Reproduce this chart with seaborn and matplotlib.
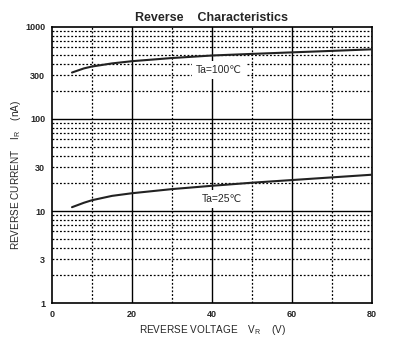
import numpy as np
import pandas as pd
import matplotlib.pyplot as plt
import seaborn as sns
from matplotlib.ticker import FixedLocator, NullFormatter

# Dados (tensão reversa em V, corrente reversa em nA)
vr = [5, 8, 10, 15, 20, 30, 40, 50, 60, 70, 80]
ir_100 = [320, 355, 372, 402, 425, 460, 490, 510, 530, 550, 572]
ir_25 = [11.0, 12.3, 13.1, 14.6, 15.6, 17.3, 18.8, 20.3, 21.7, 23.2, 24.8]

df = pd.DataFrame({
    'vr': vr * 2,
    'ir': ir_100 + ir_25,
    'ta': ['100'] * len(vr) + ['25'] * len(vr),
})

sns.set_style('white')
plt.rcParams['font.family'] = ['Liberation Sans', 'DejaVu Sans']

fig = plt.figure(figsize=(3.96, 3.52), dpi=100)
ax = fig.add_axes([0.1313, 0.1392, 0.8081, 0.7841])

sns.lineplot(data=df, x='vr', y='ir', units='ta', estimator=None,
             color='#222222', linewidth=1.5, ax=ax, zorder=5)

ax.set_yscale('log')
ax.set_xlim(0, 80)
ax.set_ylim(1, 1000)

# Grade: linhas cheias nas décadas e a cada 20 V, pontilhadas no resto
ax.set_xticks([0, 20, 40, 60, 80])
ax.set_yticks([1, 3, 10, 30, 100, 300, 1000])
ax.set_yticklabels(['1', '3', '10', '30', '100', '300', '1000'])
ax.xaxis.set_minor_locator(FixedLocator([10, 30, 50, 70]))
minors = [m * 10 ** d for d in range(3) for m in range(2, 10)]
ax.yaxis.set_minor_locator(FixedLocator(minors))
ax.yaxis.set_minor_formatter(NullFormatter())

for v in [20, 40, 60]:
    ax.axvline(v, color='k', linewidth=1.0)
for v in [10, 30, 50, 70]:
    ax.axvline(v, color='k', linewidth=0.9, linestyle=(0, (1.5, 1.5)))
for v in [10, 100]:
    ax.axhline(v, color='k', linewidth=1.0)
for v in minors:
    ax.axhline(v, color='k', linewidth=0.9, linestyle=(0, (1.5, 1.5)))

ax.tick_params(axis='both', which='both', length=0, labelsize=6.5, pad=5)
for lab in ax.get_xticklabels() + ax.get_yticklabels():
    lab.set_fontweight('bold')
for s in ax.spines.values():
    s.set_color('k')
    s.set_linewidth(1.2)

caixa = dict(facecolor='white', edgecolor='none', pad=3.0)
ax.text(41.8, 341, 'Ta=100℃', fontsize=7.5, ha='center', va='center',
        family=['Liberation Sans', 'DejaVu Sans'], bbox=caixa, zorder=6)
ax.text(42.4, 13.5, 'Ta=25℃', fontsize=7.5, ha='center', va='center',
        family=['Liberation Sans', 'DejaVu Sans'], bbox=caixa, zorder=6)

ax.set_title('Reverse    Characteristics', fontsize=9, fontweight='bold', pad=4)
ax.set_xlabel('REVERSE VOLTAGE    V$_{\\mathregular{R}}$    (V)', fontsize=7.2, labelpad=3)
ax.set_ylabel('REVERSE CURRENT    I$_{\\mathregular{R}}$    (nA)', fontsize=7.2)
ax.yaxis.set_label_coords(-0.092, 0.464)

fig.savefig('out.png', dpi=100)
